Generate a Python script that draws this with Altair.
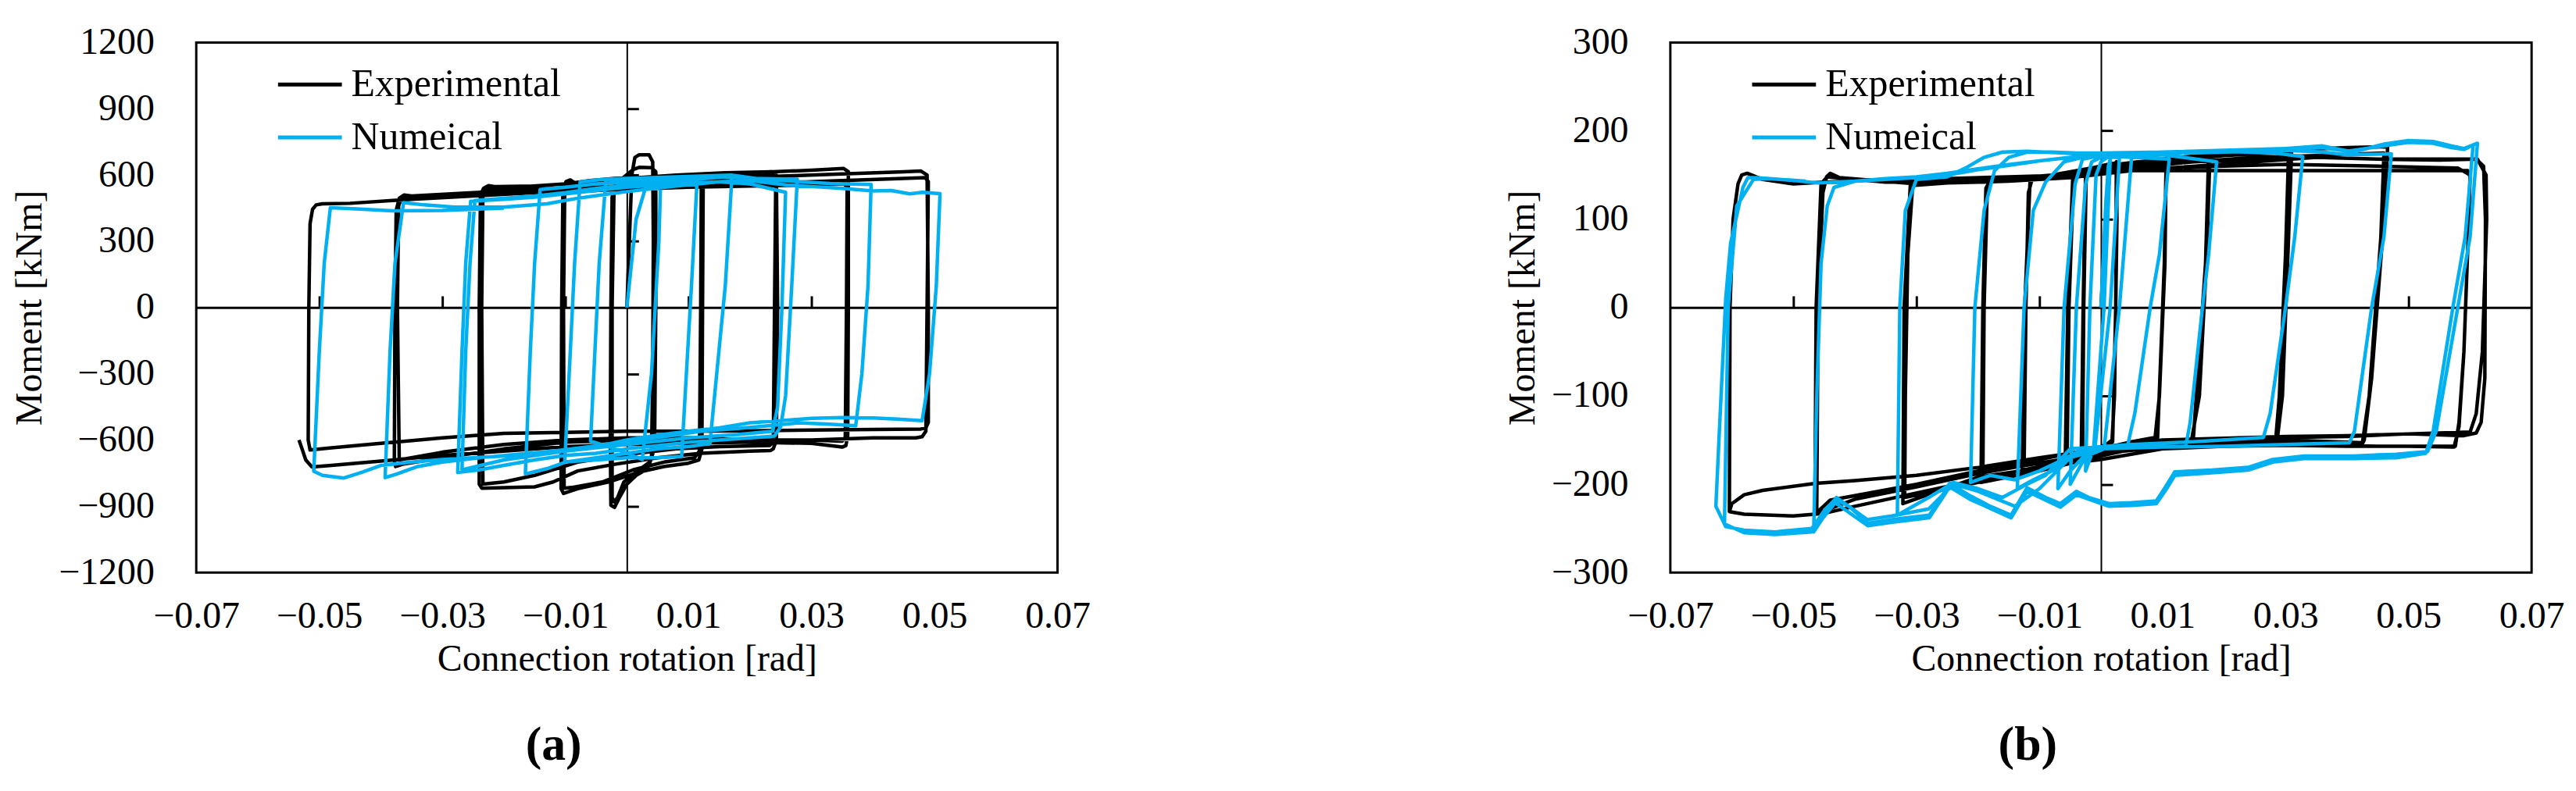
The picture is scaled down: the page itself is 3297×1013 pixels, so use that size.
import altair as alt
import pandas as pd

# ---------------- axis values ----------------
X_LABELS = [-0.07, -0.05, -0.03, -0.01, 0.01, 0.03, 0.05, 0.07]
X_MINOR = [-0.05, -0.03, -0.01, 0.01, 0.03, 0.05]
A_Y_LABELS = [-1200, -900, -600, -300, 0, 300, 600, 900, 1200]
A_Y_MINOR = [-900, -600, -300, 300, 600, 900]
B_Y_LABELS = [-300, -200, -100, 0, 100, 200, 300]
B_Y_MINOR = [-200, -100, 100, 200]
SERIES = ["Experimental", "Numeical"]
COLORS = ["#000000", "#00b0f0"]

# ---------------- panel (a): rotation [rad], moment [kNm] ----------------
A_EXP = [
    (0.0000, 0), (0.0004, 300), (0.0008, 600), (0.0013, 680), (0.0020, 692), (0.0036, 692), (0.0042, 660),
    (0.0043, 300), (0.0042, -300), (0.0040, -680), (0.0034, -730), (0.0015, -760), (0.0000, -800),
    (-0.0012, -860), (-0.0020, -905), (-0.0026, -895),
    (-0.0027, -600), (-0.0026, 0), (-0.0024, 500), (-0.0019, 555),
    (-0.0005, 590), (0.0010, 625), (0.0020, 635), (0.0040, 633), (0.0047, 615),
    (0.0047, 0), (0.0045, -640), (0.0037, -700), (0.0015, -745), (-0.0005, -790), (-0.0015, -860),
    (-0.0021, -880), (-0.0024, -860),
    (-0.0024, 0), (-0.0021, 520), (-0.0015, 560),
    (-0.0005, 575), (0.0030, 590), (0.0070, 596), (0.0112, 600), (0.0121, 595),
    (0.0124, 540), (0.0123, 0), (0.0122, -640), (0.0117, -690), (0.0100, -705), (0.0060, -720),
    (0.0020, -745), (-0.0030, -790), (-0.0080, -820), (-0.0103, -842), (-0.0107, -820),
    (-0.0106, 0), (-0.0104, 530), (-0.0099, 570), (-0.0092, 578), (-0.0085, 565),
    (-0.0060, 575), (-0.0020, 585), (0.0030, 590), (0.0080, 595), (0.0118, 592), (0.0121, 560),
    (0.0120, 0), (0.0118, -650), (0.0110, -680), (0.0060, -700), (0.0010, -735), (-0.0040, -790),
    (-0.0090, -815), (-0.0102, -818),
    (-0.0103, 0), (-0.0101, 535), (-0.0095, 560),
    (-0.0060, 575), (0.0000, 585), (0.0080, 600), (0.0160, 610), (0.0235, 615), (0.0243, 600),
    (0.0245, 0), (0.0243, -600), (0.0238, -640), (0.0233, -648), (0.0200, -650), (0.0120, -660),
    (0.0050, -680), (-0.0020, -710), (-0.0080, -740), (-0.0120, -790), (-0.0150, -812),
    (-0.0236, -818), (-0.0240, -800),
    (-0.0240, 0), (-0.0238, 510), (-0.0233, 540), (-0.0225, 552), (-0.0215, 548),
    (-0.0150, 550), (-0.0100, 560), (-0.0050, 565), (0.0000, 570), (0.0080, 585), (0.0150, 595),
    (0.0238, 605), (0.0242, 580),
    (0.0240, 0), (0.0238, -610), (0.0232, -625), (0.0150, -630), (0.0080, -640), (0.0000, -665),
    (-0.0080, -700), (-0.0150, -760), (-0.0200, -790), (-0.0234, -800),
    (-0.0236, 0), (-0.0234, 520), (-0.0228, 540),
    (-0.0180, 545), (-0.0100, 560), (0.0000, 575), (0.0100, 595), (0.0200, 610), (0.0300, 622),
    (0.0352, 630), (0.0360, 615),
    (0.0360, 0), (0.0359, -580), (0.0356, -625), (0.0350, -632), (0.0300, -615), (0.0200, -610),
    (0.0100, -600), (0.0000, -600), (-0.0100, -610), (-0.0200, -640), (-0.0300, -680),
    (-0.0365, -710), (-0.0376, -720), (-0.0378, -690),
    (-0.0377, 0), (-0.0375, 440), (-0.0370, 495), (-0.0362, 510), (-0.0350, 505),
    (-0.0300, 508), (-0.0200, 515), (-0.0100, 525), (0.0000, 535), (0.0100, 545), (0.0200, 550),
    (0.0300, 555), (0.0354, 560), (0.0358, 540),
    (0.0357, 0), (0.0355, -590), (0.0350, -605), (0.0300, -600), (0.0200, -600), (0.0100, -590),
    (0.0000, -590), (-0.0100, -600), (-0.0200, -620), (-0.0300, -655), (-0.0370, -690),
    (-0.0373, 0), (-0.0371, 460), (-0.0366, 500),
    (-0.0350, 505), (-0.0250, 520), (-0.0150, 535), (-0.0050, 545), (0.0050, 560), (0.0150, 580),
    (0.0250, 595), (0.0350, 605), (0.0450, 615), (0.0478, 618), (0.0488, 600),
    (0.0490, 0), (0.0490, -520), (0.0486, -545), (0.0478, -550), (0.0400, -552), (0.0300, -555),
    (0.0200, -558), (0.0100, -560), (0.0000, -560), (-0.0100, -565), (-0.0200, -570),
    (-0.0300, -590), (-0.0400, -615), (-0.0480, -635), (-0.0515, -645),
    (-0.0518, -600), (-0.0517, 0), (-0.0515, 380), (-0.0511, 445), (-0.0505, 465), (-0.0495, 470),
    (-0.0450, 472), (-0.0350, 490), (-0.0250, 505), (-0.0150, 520), (-0.0050, 530), (0.0050, 545),
    (0.0150, 555), (0.0250, 565), (0.0350, 575), (0.0450, 585), (0.0485, 588), (0.0490, 570),
    (0.0488, 0), (0.0486, -560), (0.0480, -585), (0.0470, -590), (0.0400, -590), (0.0300, -600),
    (0.0200, -610), (0.0100, -615), (0.0000, -620), (-0.0100, -630), (-0.0200, -650),
    (-0.0300, -670), (-0.0400, -695), (-0.0480, -715), (-0.0512, -722), (-0.0522, -690),
    (-0.0528, -640), (-0.0533, -600),
]

A_NUM = [
    (0.0000, 0), (0.0015, 400), (0.0030, 540), (0.0045, 570), (0.0055, 581),
    (0.0052, 300), (0.0040, -300), (0.0025, -688),
    (0.0000, -660), (-0.0030, -630), (-0.0059, -605),
    (-0.0052, -200), (-0.0045, 200), (-0.0034, 580),
    (0.0000, 582), (0.0050, 575), (0.0114, 569),
    (0.0105, 100), (0.0089, -674),
    (0.0050, -680), (0.0000, -680), (-0.0050, -690), (-0.0101, -699),
    (-0.0092, -200), (-0.0085, 200), (-0.0076, 569),
    (-0.0040, 580), (0.0000, 585), (0.0060, 590), (0.0120, 595), (0.0171, 600),
    (0.0160, 100), (0.0135, -616),
    (0.0100, -630), (0.0050, -640), (0.0000, -660), (-0.0050, -680), (-0.0100, -700),
    (-0.0130, -730), (-0.0165, -753),
    (-0.0157, -200), (-0.0150, 200), (-0.0141, 534),
    (-0.0100, 545), (-0.0050, 560), (0.0000, 570), (0.0080, 580), (0.0150, 592), (0.0200, 585),
    (0.0277, 581),
    (0.0268, 100), (0.0258, -400), (0.0250, -540), (0.0240, -582),
    (0.0200, -590), (0.0150, -600), (0.0100, -610), (0.0050, -625), (0.0000, -640),
    (-0.0050, -660), (-0.0100, -670), (-0.0150, -690), (-0.0200, -715), (-0.0240, -735),
    (-0.0275, -747),
    (-0.0268, -200), (-0.0262, 200), (-0.0254, 481),
    (-0.0200, 490), (-0.0150, 500), (-0.0100, 515), (-0.0050, 530), (0.0000, 545), (0.0080, 560),
    (0.0150, 570), (0.0200, 560), (0.0258, 522),
    (0.0252, 0), (0.0245, -450), (0.0237, -560),
    (0.0180, -575), (0.0100, -590), (0.0000, -620), (-0.0100, -650), (-0.0200, -690),
    (-0.0268, -735),
    (-0.0262, -200), (-0.0255, 200), (-0.0247, 485),
    (-0.0200, 495), (-0.0150, 505), (-0.0100, 520), (-0.0050, 540), (0.0000, 555), (0.0080, 572),
    (0.0150, 590), (0.0175, 598), (0.0220, 580), (0.0280, 570), (0.0330, 562), (0.0397, 557),
    (0.0392, 100), (0.0382, -300), (0.0372, -535),
    (0.0330, -528), (0.0280, -522), (0.0230, -535), (0.0180, -548), (0.0120, -560), (0.0060, -585),
    (0.0000, -605), (-0.0060, -630), (-0.0120, -650), (-0.0180, -665), (-0.0240, -680),
    (-0.0300, -700), (-0.0340, -720), (-0.0370, -750), (-0.0393, -770),
    (-0.0385, -200), (-0.0377, 200), (-0.0363, 475),
    (-0.0330, 465), (-0.0280, 455), (-0.0200, 455), (-0.0130, 470), (-0.0080, 495), (0.0000, 525),
    (0.0080, 550), (0.0150, 570), (0.0200, 575), (0.0260, 555), (0.0300, 548), (0.0350, 540),
    (0.0400, 528), (0.0430, 530), (0.0460, 515), (0.0480, 522), (0.0509, 516),
    (0.0503, 100), (0.0492, -300), (0.0480, -512),
    (0.0440, -505), (0.0400, -500), (0.0350, -498), (0.0300, -502), (0.0250, -512), (0.0200, -522),
    (0.0150, -545), (0.0100, -560), (0.0050, -578), (0.0000, -600), (-0.0050, -630),
    (-0.0100, -650), (-0.0150, -665), (-0.0200, -672), (-0.0250, -680), (-0.0300, -688),
    (-0.0350, -700), (-0.0400, -715), (-0.0430, -745), (-0.0460, -772), (-0.0480, -765),
    (-0.0495, -760), (-0.0509, -741),
    (-0.0500, -200), (-0.0492, 200), (-0.0482, 452),
    (-0.0440, 447), (-0.0380, 438), (-0.0300, 440), (-0.0200, 450),
]

# ---------------- panel (b): rotation [rad], moment [kNm] ----------------
B_EXP = [
    (0.0000, 0), (0.0008, 100), (0.0015, 158), (0.0025, 165),
    (0.0026, 100), (0.0022, -100), (0.0018, -150),
    (0.0000, -160), (-0.0020, -165), (-0.0030, -168),
    (-0.0028, 0), (-0.0024, 150), (-0.0015, 158),
    (0.0010, 162), (0.0025, 164),
    (0.0024, 0), (0.0019, -152),
    (-0.0020, -163), (-0.0032, -166),
    (-0.0029, 0), (-0.0025, 152),
    (0.0000, 160), (0.0050, 163), (0.0106, 165),
    (0.0104, 50), (0.0095, -100), (0.0088, -147),
    (0.0050, -152), (0.0000, -160), (-0.0030, -165), (-0.0055, -168),
    (-0.0052, 0), (-0.0045, 140), (-0.0035, 152),
    (0.0000, 160), (0.0060, 165), (0.0106, 167),
    (0.0103, 50), (0.0092, -148),
    (0.0050, -153), (0.0000, -162), (-0.0058, -170),
    (-0.0054, 0), (-0.0046, 145),
    (-0.0030, 155), (0.0040, 163), (0.0100, 167), (0.0177, 170),
    (0.0172, 60), (0.0160, -100), (0.0147, -151),
    (0.0080, -150), (0.0000, -162), (-0.0060, -172), (-0.0125, -185),
    (-0.0122, 0), (-0.0118, 130), (-0.0112, 145),
    (-0.0050, 152), (0.0050, 162), (0.0120, 168), (0.0175, 172),
    (0.0170, 50), (0.0150, -150),
    (0.0080, -152), (0.0000, -164), (-0.0070, -178), (-0.0128, -188),
    (-0.0124, 0), (-0.0115, 148),
    (-0.0080, 150), (0.0000, 160), (0.0100, 168), (0.0200, 175), (0.0310, 180),
    (0.0305, 80), (0.0295, -100), (0.0287, -147),
    (0.0200, -149), (0.0100, -150), (0.0000, -165), (-0.0100, -180), (-0.0192, -194),
    (-0.0190, 0), (-0.0185, 130), (-0.0180, 145),
    (-0.0100, 148), (0.0000, 158), (0.0100, 166), (0.0200, 172), (0.0305, 176),
    (0.0300, 60), (0.0290, -100), (0.0284, -150),
    (0.0200, -152), (0.0100, -153), (0.0000, -168), (-0.0100, -185), (-0.0195, -198),
    (-0.0192, 0), (-0.0187, 135), (-0.0181, 143),
    (-0.0100, 148), (0.0000, 157), (0.0100, 165), (0.0200, 172), (0.0300, 178), (0.0400, 181),
    (0.0466, 182),
    (0.0460, 100), (0.0440, -80), (0.0428, -150), (0.0423, -157),
    (0.0350, -155), (0.0250, -152), (0.0150, -152), (0.0050, -158), (0.0000, -165),
    (-0.0100, -185), (-0.0200, -198), (-0.0319, -215),
    (-0.0318, -100), (-0.0314, 60), (-0.0306, 139),
    (-0.0250, 142), (-0.0150, 145), (-0.0050, 150), (0.0050, 158), (0.0150, 165), (0.0250, 170),
    (0.0350, 172), (0.0460, 175),
    (0.0455, 80), (0.0436, -100), (0.0425, -153),
    (0.0300, -150), (0.0200, -150), (0.0100, -152), (0.0000, -162), (-0.0100, -182),
    (-0.0200, -192), (-0.0322, -222),
    (-0.0320, 0), (-0.0310, 138),
    (-0.0250, 141), (-0.0150, 143), (-0.0050, 147), (0.0050, 155), (0.0150, 160), (0.0250, 165),
    (0.0350, 170), (0.0450, 168), (0.0550, 167), (0.0610, 168), (0.0622, 160),
    (0.0625, 100), (0.0624, -80), (0.0618, -130), (0.0610, -142), (0.0590, -145),
    (0.0500, -143), (0.0400, -146), (0.0300, -147), (0.0200, -148), (0.0100, -150), (0.0000, -158),
    (-0.0100, -172), (-0.0200, -185), (-0.0300, -200), (-0.0400, -213), (-0.0440, -218),
    (-0.0462, -232),
    (-0.0460, 0), (-0.0452, 130), (-0.0446, 148), (-0.0440, 152), (-0.0425, 147),
    (-0.0300, 140), (-0.0200, 143), (-0.0100, 146), (0.0000, 153), (0.0100, 158), (0.0200, 160),
    (0.0300, 162), (0.0450, 160), (0.0580, 158), (0.0600, 150),
    (0.0598, 100), (0.0590, -50), (0.0582, -130), (0.0576, -157),
    (0.0450, -157), (0.0300, -155), (0.0150, -155), (0.0000, -165), (-0.0100, -176),
    (-0.0200, -188), (-0.0300, -203), (-0.0400, -217), (-0.0465, -234),
    (-0.0463, 0), (-0.0455, 140), (-0.0445, 148),
    (-0.0350, 142), (-0.0250, 142), (-0.0150, 145), (-0.0050, 152), (0.0050, 160), (0.0150, 165),
    (0.0250, 168), (0.0350, 170), (0.0450, 168), (0.0550, 168), (0.0612, 168), (0.0626, 150),
    (0.0627, 100), (0.0620, -50), (0.0610, -120), (0.0600, -141),
    (0.0500, -143), (0.0400, -145), (0.0300, -146), (0.0200, -148), (0.0100, -150), (0.0000, -160),
    (-0.0100, -170), (-0.0200, -181), (-0.0300, -190), (-0.0400, -196), (-0.0464, -199),
    (-0.0550, -207), (-0.0580, -212), (-0.0600, -222), (-0.0604, -231),
    (-0.0603, 0), (-0.0598, 100), (-0.0590, 140), (-0.0584, 150), (-0.0575, 152),
    (-0.0550, 145), (-0.0500, 140), (-0.0450, 142), (-0.0350, 145), (-0.0250, 146), (-0.0150, 148),
    (-0.0050, 150), (0.0050, 155), (0.0150, 155), (0.0300, 155), (0.0450, 155), (0.0550, 155),
    (0.0596, 155), (0.0600, 148),
    (0.0598, 100), (0.0590, -50), (0.0582, -135), (0.0574, -158),
    (0.0500, -157), (0.0400, -157), (0.0300, -156), (0.0200, -157), (0.0100, -160), (0.0000, -172),
    (-0.0100, -180), (-0.0200, -195), (-0.0300, -210), (-0.0400, -225), (-0.0450, -233),
    (-0.0500, -236), (-0.0580, -234), (-0.0604, -231),
]

B_NUM = [
    (0.0000, 0), (0.0008, 120), (0.0012, 160), (0.0015, 168),
    (0.0005, 0), (-0.0012, -160), (-0.0025, -185),
    (-0.0018, 0), (-0.0008, 150), (0.0000, 165),
    (0.0010, 170), (0.0030, 170),
    (0.0015, 0), (-0.0010, -160),
    (-0.0030, -175), (-0.0050, -200),
    (-0.0040, 0), (-0.0025, 140), (-0.0015, 165),
    (0.0000, 170), (0.0030, 172), (0.0050, 172),
    (0.0030, 0), (0.0005, -160),
    (-0.0030, -170), (-0.0050, -185), (-0.0070, -205),
    (-0.0060, 0), (-0.0042, 140), (-0.0030, 168),
    (0.0000, 172), (0.0050, 170), (0.0111, 168),
    (0.0095, 60), (0.0080, 0), (0.0055, -120), (0.0043, -157),
    (0.0000, -158), (-0.0040, -165), (-0.0080, -185), (-0.0110, -195), (-0.0136, -205),
    (-0.0125, 0), (-0.0110, 110), (-0.0090, 142),
    (-0.0060, 165), (-0.0030, 170), (0.0000, 172), (0.0050, 172), (0.0100, 173), (0.0188, 165),
    (0.0175, 60), (0.0165, 0), (0.0145, -130), (0.0138, -157),
    (0.0050, -158), (-0.0030, -160), (-0.0070, -175), (-0.0100, -185), (-0.0140, -195),
    (-0.0180, -190), (-0.0212, -198),
    (-0.0205, 0), (-0.0190, 110), (-0.0173, 155),
    (-0.0150, 170), (-0.0120, 176), (-0.0080, 176), (-0.0040, 175), (0.0000, 175), (0.0100, 176),
    (0.0200, 177), (0.0280, 175), (0.0328, 171),
    (0.0315, 80), (0.0300, 0), (0.0275, -120), (0.0264, -147),
    (0.0150, -152), (0.0050, -155), (-0.0050, -160), (-0.0090, -190), (-0.0120, -200),
    (-0.0160, -215), (-0.0200, -205), (-0.0240, -198), (-0.0280, -215), (-0.0331, -235),
    (-0.0327, 0), (-0.0318, 110), (-0.0300, 145),
    (-0.0250, 148), (-0.0220, 158), (-0.0190, 170), (-0.0160, 176), (-0.0120, 177), (-0.0060, 175),
    (0.0000, 172), (0.0100, 174), (0.0200, 176), (0.0300, 178), (0.0360, 176), (0.0400, 173),
    (0.0472, 174),
    (0.0460, 80), (0.0440, 0), (0.0412, -140), (0.0404, -153),
    (0.0300, -155), (0.0200, -157), (0.0100, -158), (0.0000, -160), (-0.0050, -170),
    (-0.0100, -205), (-0.0140, -225), (-0.0200, -208), (-0.0240, -200), (-0.0280, -228),
    (-0.0340, -236), (-0.0380, -240), (-0.0430, -215), (-0.0467, -254),
    (-0.0462, -100), (-0.0455, 50), (-0.0445, 115), (-0.0434, 136),
    (-0.0400, 143), (-0.0350, 146), (-0.0300, 148), (-0.0250, 152), (-0.0200, 157), (-0.0150, 162),
    (-0.0100, 166), (-0.0050, 170), (0.0000, 173), (0.0100, 176), (0.0200, 178), (0.0300, 180),
    (0.0360, 183), (0.0410, 176), (0.0460, 185), (0.0500, 189), (0.0540, 188), (0.0570, 183),
    (0.0590, 180), (0.0612, 186),
    (0.0600, 80), (0.0580, 0), (0.0545, -140), (0.0531, -163),
    (0.0480, -166), (0.0412, -168), (0.0330, -168), (0.0279, -172), (0.0239, -181), (0.0180, -184),
    (0.0120, -186), (0.0105, -203), (0.0090, -219), (0.0050, -221), (0.0013, -222),
    (-0.0020, -215), (-0.0040, -208), (-0.0066, -222), (-0.0090, -215), (-0.0120, -204),
    (-0.0146, -235), (-0.0180, -225), (-0.0213, -213), (-0.0246, -199), (-0.0260, -215),
    (-0.0279, -235), (-0.0339, -240), (-0.0379, -244), (-0.0410, -225), (-0.0432, -217),
    (-0.0450, -230), (-0.0470, -250), (-0.0530, -254), (-0.0580, -252), (-0.0610, -248),
    (-0.0626, -225),
    (-0.0621, -150), (-0.0610, 10), (-0.0602, 73), (-0.0582, 136), (-0.0574, 147),
    (-0.0560, 147), (-0.0500, 144), (-0.0460, 141), (-0.0400, 143), (-0.0300, 147), (-0.0250, 150),
    (-0.0200, 156), (-0.0150, 161), (-0.0100, 166), (-0.0050, 170), (0.0000, 172), (0.0100, 175),
    (0.0200, 177), (0.0300, 179), (0.0360, 181), (0.0400, 177), (0.0460, 183), (0.0500, 187),
    (0.0540, 186), (0.0570, 181), (0.0590, 179), (0.0605, 184),
    (0.0592, 80), (0.0572, 0), (0.0540, -140), (0.0528, -165),
    (0.0480, -170), (0.0412, -171), (0.0330, -171), (0.0279, -175), (0.0239, -184), (0.0180, -187),
    (0.0120, -190), (0.0105, -207), (0.0090, -222), (0.0050, -224), (0.0013, -225),
    (-0.0040, -212), (-0.0066, -226), (-0.0120, -208), (-0.0146, -238), (-0.0213, -217),
    (-0.0246, -203), (-0.0279, -238), (-0.0339, -243), (-0.0379, -247), (-0.0432, -221),
    (-0.0470, -254), (-0.0530, -257), (-0.0580, -255), (-0.0612, -245),
    (-0.0606, 0), (-0.0592, 115), (-0.0565, 145),
    (-0.0540, 146), (-0.0480, 143),
]

FONT = "Liberation Serif"
W, H = 1106, 681


def frame(points, name):
    return pd.DataFrame({
        "i": list(range(len(points))),
        "rot": [p[0] for p in points],
        "mom": [p[1] for p in points],
        "series": name,
    })


def panel(exp_pts, num_pts, ydom, ylabels, yminor, caption):
    d_exp = frame(exp_pts, SERIES[0])
    d_num = frame(num_pts, SERIES[1])
    xs = alt.Scale(domain=[-0.07, 0.07], nice=False, zero=False)
    ys = alt.Scale(domain=ydom, nice=False, zero=False)
    legend = alt.Legend(
        orient="none", legendX=121, legendY=29, title=None, padding=0,
        symbolType="M-2,0H2", symbolSize=1681, symbolStrokeWidth=5,
        labelFont=FONT, labelFontSize=50, labelOffset=28, labelColor="black",
        labelLimit=0, rowPadding=18,
    )
    color = alt.Color("series:N", scale=alt.Scale(domain=SERIES, range=COLORS), legend=legend)
    main_x = alt.X("rot:Q", scale=xs, axis=alt.Axis(
        orient="bottom", values=X_LABELS, format=".2f", grid=False, ticks=False, domain=False,
        labelFont=FONT, labelFontSize=48, labelPadding=33, labelColor="black",
        labelFlush=False, labelOverlap=False, labelBound=False,
        title="Connection rotation [rad]", titleFont=FONT, titleFontSize=48,
        titleFontWeight="normal", titlePadding=7, titleColor="black"))
    main_y = alt.Y("mom:Q", scale=ys, axis=alt.Axis(
        orient="left", values=ylabels, format="d", grid=False, ticks=False, domain=False,
        labelFont=FONT, labelFontSize=48, labelPadding=54, labelColor="black",
        labelFlush=False, labelOverlap=False, labelBound=False,
        title="Moment [kNm]", titleFont=FONT, titleFontSize=48,
        titleFontWeight="normal", titlePadding=12, titleColor="black"))
    center_x = alt.X("rot:Q", scale=xs, axis=alt.Axis(
        orient="top", offset=-H / 2, values=X_MINOR, labels=False, title=None, grid=False,
        domain=True, domainColor="black", domainWidth=3,
        ticks=True, tickSize=15, tickWidth=3, tickColor="black"))
    center_y = alt.Y("mom:Q", scale=ys, axis=alt.Axis(
        orient="right", offset=-W / 2, values=yminor, labels=False, title=None, grid=False,
        domain=True, domainColor="black", domainWidth=2,
        ticks=True, tickSize=15, tickWidth=3, tickColor="black"))

    center = alt.Chart(d_exp).mark_point(opacity=0, size=1).encode(x=center_x, y=center_y)
    exp_line = alt.Chart(d_exp).mark_line(strokeWidth=4.5, strokeJoin="round").encode(
        x=main_x, y=main_y, color=color, order="i:Q")
    num_line = alt.Chart(d_num).mark_line(strokeWidth=4.5, strokeJoin="round").encode(
        x=alt.X("rot:Q", scale=xs, axis=None), y=alt.Y("mom:Q", scale=ys, axis=None),
        color=color, order="i:Q")
    return alt.layer(center, exp_line, num_line).resolve_axis(
        x="independent", y="independent"
    ).properties(
        width=W, height=H,
        title=alt.TitleParams(caption, orient="bottom", anchor="middle", frame="group", dx=-94,
                              font=FONT, fontSize=62, fontWeight="bold", offset=56,
                              color="black"),
    )


pa = panel(A_EXP, A_NUM, [-1200, 1200], A_Y_LABELS, A_Y_MINOR, "(a)")
pb = panel(B_EXP, B_NUM, [-300, 300], B_Y_LABELS, B_Y_MINOR, "(b)")

chart = alt.hconcat(pa, pb, spacing=528).resolve_scale(color="independent").resolve_legend(
    color="independent"
).properties(
    padding={"left": 5, "top": 19, "right": 5, "bottom": 5}
).configure(background="white").configure_view(stroke="black", strokeWidth=3)

chart.save("out.html", embed_options={"renderer": "svg", "actions": False})
